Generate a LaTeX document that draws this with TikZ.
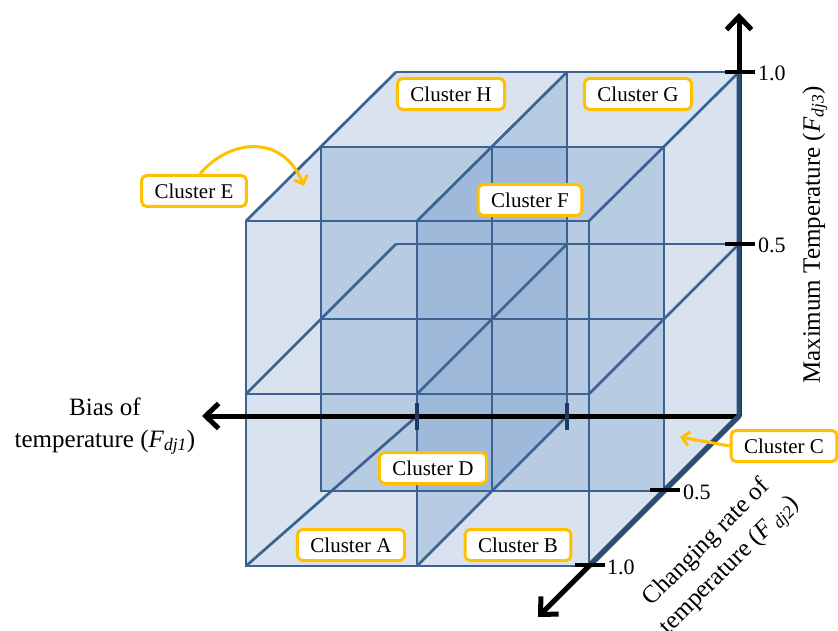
\documentclass[tikz,border=0pt]{standalone}
\usepackage{fontspec}
\setmainfont{Liberation Serif}
\usepackage{xcolor}
\usetikzlibrary{arrows.meta, positioning, calc}

\definecolor{edgeblue}{HTML}{3B6291}
\definecolor{rimblue}{HTML}{2C4C78}
\definecolor{cubefill}{HTML}{D9E3F0}
\definecolor{shadeblue}{HTML}{4F81BD}
\definecolor{tagline}{HTML}{FFC000}
\definecolor{tickblue}{HTML}{1F3B63}

\begin{document}
\begin{tikzpicture}[
  x=1pt, y=-1pt,
  edge/.style={draw=edgeblue, line width=2.7pt},
  rim/.style={draw=rimblue, line width=5pt},
  shade/.style={fill=shadeblue, fill opacity=0.24},
  axis/.style={draw=black, line width=5pt, -{Straight Barb[length=13pt, width=25pt]}},
  tick/.style={draw=black, line width=4pt},
  tag/.style={draw=tagline, line width=3pt, rounded corners=5pt, fill=white,
              minimum height=31pt, inner xsep=13pt, font=\fontsize{21}{25}\selectfont},
  val/.style={right, inner sep=1pt, font=\fontsize{22}{26}\selectfont},
  lbl/.style={align=center, font=\fontsize{25}{32}\selectfont},
  call/.style={draw=tagline, line width=3pt, -{Straight Barb[length=7pt, width=14pt]}}
]
\useasboundingbox (0,0) rectangle (838,631);

% cube corners: front, middle and back layer
\coordinate (fTL) at (246,221); \coordinate (fTM) at (417,221); \coordinate (fTR) at (589,221);
\coordinate (fML) at (246,394); \coordinate (fMM) at (417,394); \coordinate (fMR) at (589,394);
\coordinate (fBL) at (246,566); \coordinate (fBM) at (417,566); \coordinate (fBR) at (589,566);
\coordinate (mTL) at (321,147); \coordinate (mTM) at (492,147); \coordinate (mTR) at (664,147);
\coordinate (mML) at (321,319); \coordinate (mMR) at (664,319);
\coordinate (mBL) at (321,491); \coordinate (mBM) at (492,491); \coordinate (mBR) at (664,491);
\coordinate (bTL) at (396,72);  \coordinate (bTM) at (567,72);  \coordinate (bTR) at (739,72);
\coordinate (bML) at (396,244); \coordinate (bMM) at (567,244); \coordinate (bMR) at (739,244);
\coordinate (bBX) at (417,416); \coordinate (bBM) at (567,416); \coordinate (bBR) at (739,416);

% axis tips
\coordinate (hTip) at (202,416);
\coordinate (vTip) at (739,13);
\coordinate (dTip) at (538,617);

% translucent volumes
\fill[cubefill] (fBL) -- (fTL) -- (bTL) -- (bTR) -- (bBR) -- (fBR) -- cycle;
\fill[shade] (fTM) -- (bTM) -- (bBM) -- (fBM) -- cycle;
\fill[shade] (mTL) rectangle (mBR);

% front layer
\draw[edge] (fTL) rectangle (fBR);
\draw[edge] (fTM) -- (fBM);
\draw[edge] (fML) -- (fMR);
% middle layer
\draw[edge] (mTL) rectangle (mBR);
\draw[edge] (mTM) -- (mBM);
\draw[edge] (mML) -- (mMR);
% back layer
\draw[edge] (bTL) -- (bTR);
\draw[edge] (bTM) -- (bBM);
\draw[edge] (bML) -- (bMR);
% depth edges
\draw[edge] (fTL) -- (bTL);
\draw[edge] (fTM) -- (bTM);
\draw[edge] (fTR) -- (bTR);
\draw[edge] (fML) -- (bML);
\draw[edge] (fMM) -- (bMM);
\draw[edge] (fMR) -- (bMR);
\draw[edge] (fBL) -- (bBX);
\draw[edge] (fBM) -- (bBM);

% axes
\draw[axis] (bBR) -- (hTip);
\draw[axis] (bBR) -- (vTip);
\draw[axis] (bBR) -- (dTip);
\draw[rim] (bTR) -- (bBR) -- (fBR);

% ticks
\draw[tickblue, line width=3.5pt] (417,403) -- (417,430);
\draw[tickblue, line width=3.5pt] (567,403) -- (567,430);
\draw[tick] (725,72) -- (755,72);
\draw[tick] (725,244) -- (755,244);
\draw[tick] (650,490) -- (680,490);
\draw[tick] (575,565) -- (605,565);

\node[val] (z10) at (757,73) {1.0};
\node[val] (z05) at (757,245) {0.5};
\node[val] (y05) at (682,492) {0.5};
\node[val] (y10) at (606,567) {1.0};

% axis titles
\node[lbl] (bias) at (105,426) {Bias of\\temperature (\textit{F}\textsubscript{\textit{dj1}})};
\node[lbl, rotate=90] (maxt) at (815,235) {Maximum Temperature (\textit{F}\textsubscript{\textit{dj3}})};
\node[lbl, rotate=45] (rate) at (719,555) {Changing rate of\\temperature (\textit{F}\,\textsubscript{\textit{dj2}})};

% cluster tags
\node[tag] (ch) at (451,94) {Cluster H};
\node[tag] (cg) at (638,94) {Cluster G};
\node[tag] (cf) at (530,200) {Cluster F};
\node[tag] (ce) at (194,191) {Cluster E};
\node[tag] (cd) at (433,468) {Cluster D};
\node[tag] (ca) at (351,545) {Cluster A};
\node[tag] (cb) at (518,545) {Cluster B};
\node[tag] (cc) at (784,446) {Cluster C};

\coordinate (eTip) at (304,186);
\coordinate (cTip) at (680,437);
\draw[call] ([xshift=6pt]ce.north) .. controls (228,140) and (282,132) .. (eTip);
\draw[call] (cc.west) -- (cTip);
\end{tikzpicture}
\end{document}
